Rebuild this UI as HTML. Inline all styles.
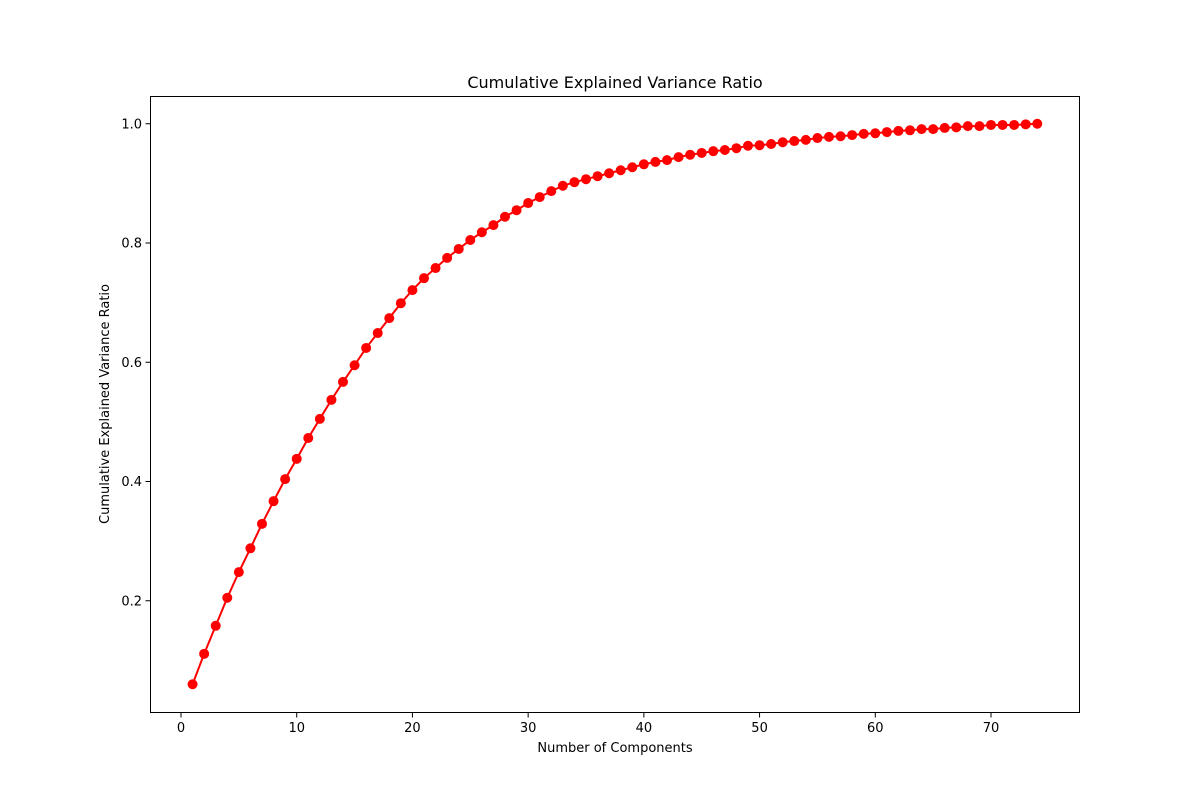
<!DOCTYPE html>
<html><head><meta charset="utf-8"><style>
body{margin:0;background:#fff;}
svg text{font-family:"DejaVu Sans","Liberation Sans",sans-serif;fill:#000;}
</style></head><body>
<svg id="chart" width="1200" height="800" xmlns="http://www.w3.org/2000/svg">
<rect width="1200" height="800" fill="#fff"/>
<text x="615" y="88" font-size="16" text-anchor="middle">Cumulative Explained Variance Ratio</text>
<text x="615" y="752" font-size="13" text-anchor="middle">Number of Components</text>
<text x="0" y="0" font-size="13" text-anchor="middle" transform="translate(109,404) rotate(-90)">Cumulative Explained Variance Ratio</text>
<g id="ticks"></g>
<g id="series"></g>
<rect x="150.5" y="96.5" width="929" height="616" fill="none" stroke="#000" stroke-width="1"/>
</svg>
<script>
const values=[0.060,0.111,0.158,0.205,0.248,0.288,0.329,0.367,0.404,0.438,0.473,0.505,0.537,0.567,0.595,0.624,0.649,0.674,0.699,0.721,0.741,0.758,0.775,0.790,0.805,0.818,0.830,0.844,0.855,0.867,0.877,0.887,0.896,0.902,0.907,0.912,0.917,0.922,0.927,0.932,0.936,0.939,0.944,0.948,0.951,0.954,0.956,0.959,0.963,0.964,0.966,0.969,0.971,0.973,0.976,0.978,0.979,0.981,0.983,0.984,0.986,0.988,0.989,0.991,0.991,0.993,0.994,0.996,0.996,0.998,0.998,0.998,0.999,1.000];
const xTicks=[0,10,20,30,40,50,60,70];
const yTicks=[0.2,0.4,0.6,0.8,1.0];
const NS='http://www.w3.org/2000/svg';
function xs(v){return 181+v*(991-181)/70;}
function ys(v){return 720-v*596.25;}
const tg=document.getElementById('ticks');
function mk(t,a){const e=document.createElementNS(NS,t);for(const k in a)e.setAttribute(k,a[k]);return e;}
xTicks.forEach(t=>{
  const l=mk('line',{x1:xs(t),x2:xs(t),y1:712.5,y2:717.5,stroke:'#000'});
  
  
  tg.appendChild(l);
  const tx=mk('text',{x:xs(t),y:732,'font-size':13,'text-anchor':'middle'});
  
  
  tx.textContent=t;tg.appendChild(tx);
});
yTicks.forEach(t=>{
  const l=mk('line',{x1:145.5,x2:150.5,y1:ys(t),y2:ys(t),stroke:'#000'});
  
  
  tg.appendChild(l);
  const tx=mk('text',{x:142,y:ys(t)+4.5,'font-size':13,'text-anchor':'end'});
  
  
  tx.textContent=t.toFixed(1);tg.appendChild(tx);
});
const sg=document.getElementById('series');
const pts=values.map((v,i)=>xs(i+1)+','+ys(v)).join(' ');
const pl=mk('polyline',{points:pts,fill:'none',stroke:'#ff0000','stroke-width':2});


sg.appendChild(pl);
values.forEach((v,i)=>{
  const c=mk('circle',{cx:xs(i+1),cy:ys(v),r:5,fill:'#ff0000'});
  
  
  sg.appendChild(c);
});
</script>
</body></html>
